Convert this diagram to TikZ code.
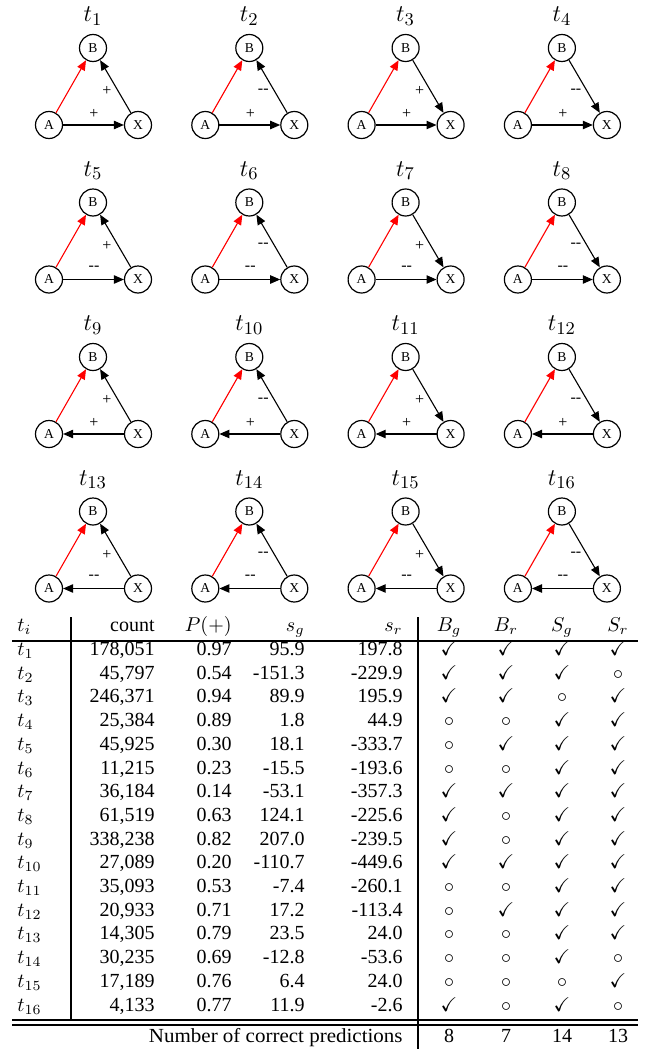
\documentclass[tikz,border=0pt]{standalone}
\usepackage{amssymb}
\usepackage[no-math]{fontspec}
\setmainfont{Liberation Serif}
\usetikzlibrary{arrows.meta}
\newcommand\ckmk[1]{\if#1c$\checkmark$\else$\circ$\fi}
\begin{document}
\begin{tikzpicture}[x=0.5pt,y=-0.5pt,
  vert/.style={circle, draw, line width=0.6pt, minimum size=13.5pt, inner sep=0pt, font=\fontsize{6.8}{7}\selectfont},
  edge/.style={line width=0.55pt, -{Triangle[length=5pt,width=4.2pt]}},
  lbl/.style={font=\fontsize{8}{9}\selectfont, inner sep=0pt},
  ttl/.style={font=\fontsize{12.5}{14}\selectfont, inner sep=0pt},
  cell/.style={inner sep=0pt, font=\fontsize{10}{12}\selectfont},
  rl/.style={line width=1pt}]
\useasboundingbox (0,0) rectangle (649,1049);
% ---------- triangles ----------
\foreach \i in {1,...,16}{
  \pgfmathtruncatemacro\row{(\i-1)/4}
  \pgfmathtruncatemacro\col{mod(\i-1,4)}
  \pgfmathsetmacro\cx{93+156.3*\col}
  \pgfmathsetmacro\by{48+154.5*\row}
  \node[ttl] (T\i) at (\cx,\by-32) {$t_{\i}$};
  \node[vert] (B\i) at (\cx,\by) {B};
  \node[vert] (A\i) at (\cx-44,\by+77) {A};
  \node[vert] (X\i) at (\cx+45,\by+77) {X};
  \draw[edge,red] (A\i) -- (B\i);
  \ifnum\i<9 \draw[edge] (A\i) -- (X\i); \else \draw[edge] (X\i) -- (A\i); \fi
  \ifnum\col<2 \draw[edge] (X\i) -- (B\i); \else \draw[edge] (B\i) -- (X\i); \fi
  \node[lbl] (LXB\i) at (\cx+14,\by+43) {\ifodd\col -{}-\else +\fi};
  \node[lbl] (LAX\i) at (\cx+1,\by+66) {\ifodd\row -{}-\else +\fi};
}
% ---------- table ----------
\draw[rl] (12,641) -- (638,641);
\draw[rl] (12,1019.5) -- (638,1019.5);
\draw[rl] (12,1024.5) -- (638,1024.5);
\draw[line width=0.8pt] (71,617) -- (71,1019.5);
\draw[line width=0.8pt] (418,617) -- (418,1049);
\node[cell, anchor=base west] (h0) at (17,631) {$t_i$};
\node[cell, anchor=base east] (h1) at (155,631) {count};
\node[cell, anchor=base east] (h2) at (232,631) {$P(+)$};
\node[cell, anchor=base east] (h3) at (305,631) {$s_g$};
\node[cell, anchor=base east] (h4) at (403,631) {$s_r$};
\node[cell, anchor=base] (h5) at (449,631) {$B_g$};
\node[cell, anchor=base] (h6) at (506,631) {$B_r$};
\node[cell, anchor=base] (h7) at (562,631) {$S_g$};
\node[cell, anchor=base] (h8) at (618,631) {$S_r$};
\foreach \k/\cnt/\p/\sg/\sr/\ma/\mb/\mc/\md in {
 1/178{,}051/0.97/95.9/197.8/c/c/c/c,
 2/45{,}797/0.54/-151.3/-229.9/c/c/c/o,
 3/246{,}371/0.94/89.9/195.9/c/c/o/c,
 4/25{,}384/0.89/1.8/44.9/o/o/c/c,
 5/45{,}925/0.30/18.1/-333.7/o/c/c/c,
 6/11{,}215/0.23/-15.5/-193.6/o/o/c/c,
 7/36{,}184/0.14/-53.1/-357.3/c/c/c/c,
 8/61{,}519/0.63/124.1/-225.6/c/o/c/c,
 9/338{,}238/0.82/207.0/-239.5/c/o/c/c,
 10/27{,}089/0.20/-110.7/-449.6/c/c/c/c,
 11/35{,}093/0.53/-7.4/-260.1/o/o/c/c,
 12/20{,}933/0.71/17.2/-113.4/o/c/c/c,
 13/14{,}305/0.79/23.5/24.0/o/o/c/c,
 14/30{,}235/0.69/-12.8/-53.6/o/o/c/o,
 15/17{,}189/0.76/6.4/24.0/o/o/o/c,
 16/4{,}133/0.77/11.9/-2.6/c/o/c/o}{
  \pgfmathsetmacro\yy{655.5+(\k-1)*23.7}
  \node[cell, anchor=base west] (r\k c0) at (17,\yy) {$t_{\k}$};
  \node[cell, anchor=base east] (r\k c1) at (155,\yy) {\cnt};
  \node[cell, anchor=base east] (r\k c2) at (232,\yy) {\p};
  \node[cell, anchor=base east] (r\k c3) at (305,\yy) {\sg};
  \node[cell, anchor=base east] (r\k c4) at (403,\yy) {\sr};
  \node[cell, anchor=base] (r\k c5) at (449,\yy) {\ckmk{\ma}};
  \node[cell, anchor=base] (r\k c6) at (506,\yy) {\ckmk{\mb}};
  \node[cell, anchor=base] (r\k c7) at (562,\yy) {\ckmk{\mc}};
  \node[cell, anchor=base] (r\k c8) at (618,\yy) {\ckmk{\md}};
}
\node[cell, anchor=base east, xscale=1.05] (f0) at (403,1042) {Number of correct predictions};
\node[cell, anchor=base] (f1) at (449,1042) {8};
\node[cell, anchor=base] (f2) at (506,1042) {7};
\node[cell, anchor=base] (f3) at (562,1042) {14};
\node[cell, anchor=base] (f4) at (618,1042) {13};
\end{tikzpicture}
\end{document}
